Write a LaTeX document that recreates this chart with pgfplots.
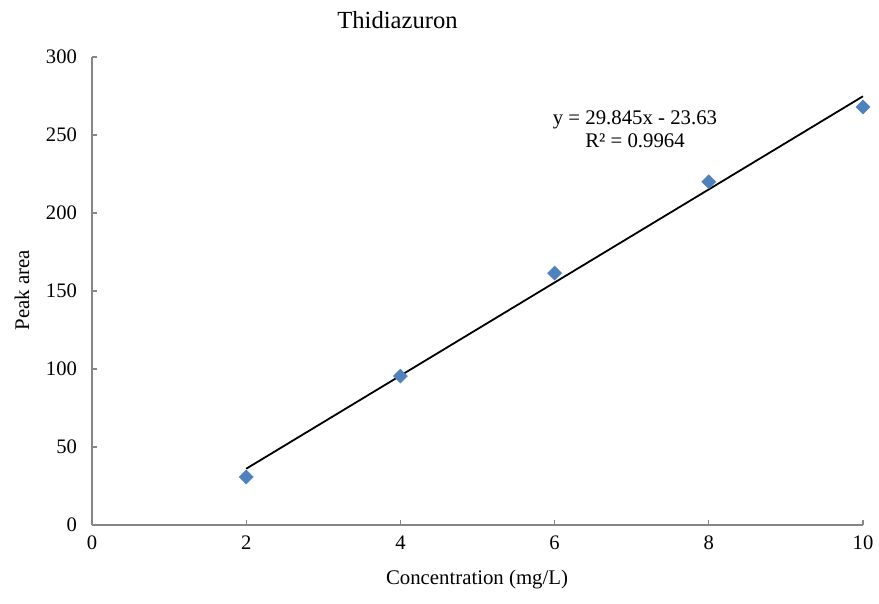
\documentclass[border=0pt]{standalone}
\usepackage{fontspec}
\setmainfont{Liberation Serif}
\usepackage{pgfplots}
\pgfplotsset{compat=1.18}
\definecolor{mk}{HTML}{4F81BD}
\definecolor{ax}{HTML}{868686}
\begin{document}
\fontsize{20.8}{24}\selectfont
\begin{tikzpicture}[x=1pt,y=1pt]
\useasboundingbox (0,0) rectangle (879,603);
\begin{axis}[
  at={(92pt,78pt)}, anchor=south west,
  scale only axis, width=771pt, height=468pt,
  xmin=0, xmax=10, ymin=0, ymax=300,
  xtick={0,2,4,6,8,10}, ytick={0,50,100,150,200,250,300},
  axis x line*=bottom, axis y line*=left,
  axis line style={ax, line width=1.5pt, -},
  tick style={ax, line width=1.2pt},
  major tick length=5pt,
  tick align=inside,
  /pgf/number format/assume math mode=true,
  tick label style={font=\fontsize{20.6}{24}\selectfont},
  xticklabel style={yshift=-4pt},
  yticklabel style={xshift=-8pt},
  clip=false,
]
\addplot[only marks, mark=square*, mark size=5pt, mark options={fill=mk, draw=mk, rotate=45}] coordinates {
 (2,30.8) (4,95.5) (6,161.5) (8,220) (10,268)
};
\addplot[black, line width=1.8pt] coordinates {
 (2,36.06) (10,274.82)
};
\end{axis}
\node at (397.5,583) {\fontsize{24.6}{28}\selectfont Thidiazuron};
\node[rotate=90] at (22,313) {Peak area};
\node at (477,23) {Concentration (mg/L)};
\node[align=center, inner sep=0pt] at (635,474) {y = 29.845x - 23.63\\[-1pt]R² = 0.9964};
\end{tikzpicture}
\end{document}
